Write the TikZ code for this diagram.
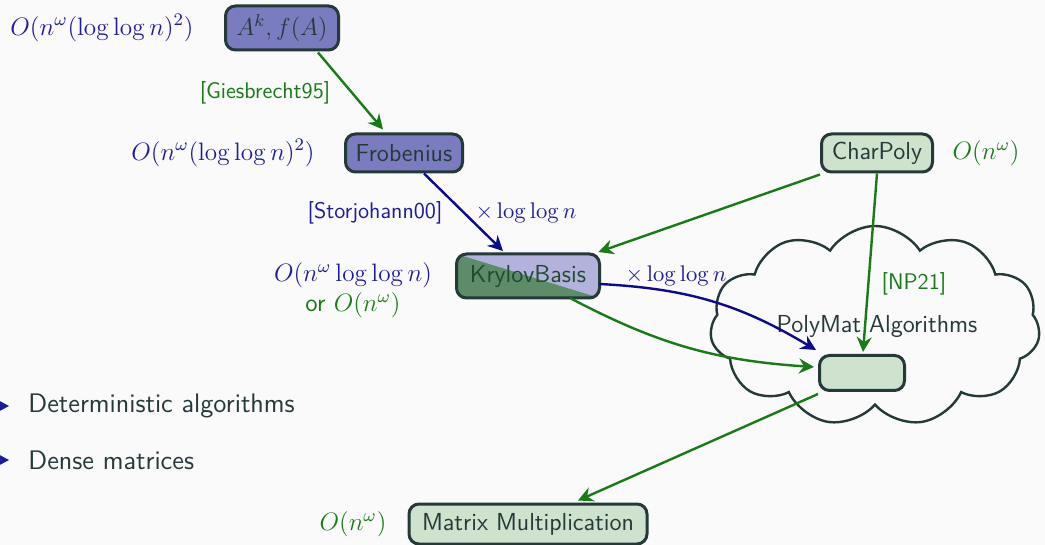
\RequirePackage{fix-cm}
\documentclass[tikz,border=0pt]{standalone}
\usetikzlibrary{shapes.symbols,arrows.meta,calc}

\definecolor{bgcol}{HTML}{FAFAFA}
\definecolor{slate}{HTML}{263939}
\definecolor{bluefill}{HTML}{7B7BC0}
\definecolor{greenfill}{HTML}{CEE2CE}
\definecolor{dgreen}{HTML}{1A7A1A}
\definecolor{dblue}{HTML}{1C1C96}
\definecolor{arrblue}{HTML}{0B0B8A}
\definecolor{krygreen}{HTML}{5C8C68}
\definecolor{krylav}{HTML}{B2B2DC}

\tikzset{
  boxfont/.style={font=\fontsize{12.3}{14}\selectfont\sffamily},
  edgefont/.style={font=\fontsize{11.3}{13}\selectfont\sffamily},
  costfont/.style={font=\fontsize{12.6}{15}\selectfont\sffamily},
  itemfont/.style={font=\fontsize{13.4}{16}\selectfont\sffamily},
  algbox/.style={boxfont, draw=slate, line width=1.5pt, rounded corners=5pt,
    text=slate, inner sep=0pt, minimum height=19pt},
  bluebox/.style={algbox, fill=bluefill},
  greenbox/.style={algbox, fill=greenfill},
  cost/.style={costfont, text=dblue, inner sep=0pt},
  gcost/.style={costfont, text=dgreen, inner sep=0pt},
  ref/.style={edgefont, text=dblue, inner sep=0pt},
  gref/.style={edgefont, text=dgreen, inner sep=0pt},
  garrow/.style={draw=dgreen, line width=1.2pt, -{Stealth[length=7.5pt,width=7.5pt,inset=2.5pt]}},
  barrow/.style={draw=arrblue, line width=1.2pt, -{Stealth[length=7.5pt,width=7.5pt,inset=2.5pt]}},
  bullet/.style={fill=dblue, draw=none},
}

\begin{document}
\begin{tikzpicture}[x=0.5pt, y=-0.5pt]
\useasboundingbox (0,0) rectangle (1045,545);
\fill[bgcol] (0,0) rectangle (1045,545);

% cloud of polynomial-matrix algorithms
\node[cloud, cloud puffs=11, cloud puff arc=115, draw=slate, line width=1.2pt,
  minimum width=165pt, minimum height=100pt, aspect=1.7] (cloud) at (875,326) {};
\node[boxfont, text=slate] (polymat) at (877,326) {PolyMat Algorithms};

% algorithm boxes
\node[bluebox, minimum width=56.5pt, minimum height=22pt] (A) at (282,28) {$A^k, f(A)$};
\node[bluebox, minimum width=58.5pt] (frob) at (404,153) {Frobenius};
\node[greenbox, minimum width=55.5pt] (charpoly) at (877,153) {CharPoly};
\node[algbox, minimum width=70pt, minimum height=20.5pt] (krylov) at (528,276) {\phantom{KrylovBasis}};
\begin{scope}
  \clip[rounded corners=5pt] (krylov.south west) rectangle (krylov.north east);
  \fill[krylav] (krylov.south west) rectangle (krylov.north east);
  \fill[krygreen] (krylov.north west) -- (krylov.south east) -- (krylov.south west) -- cycle;
\end{scope}
\draw[slate, line width=1.5pt, rounded corners=5pt] (krylov.south west) rectangle (krylov.north east);
\node[boxfont, text=slate!75!dgreen] at (krylov.center) {KrylovBasis};
\node[greenbox, minimum width=42.5pt, minimum height=17.5pt] (inner) at (862,373) {};
\node[greenbox, minimum width=119pt, minimum height=20pt] (matmul) at (528,524) {Matrix Multiplication};

% costs and references
\node[cost] (costA) at (102,28) {$O(n^\omega(\log\log n)^2)$};
\node[gref] (giesb) at (265,93) {[Giesbrecht95]};
\node[cost] (costF) at (223,153) {$O(n^\omega(\log\log n)^2)$};
\node[ref] (storj) at (375,213) {[Storjohann00]};
\node[ref] (fac1) at (526,213) {$\times\log\log n$};
\node[cost] (costK1) at (353,275) {$O(n^\omega\log\log n)$};
\node[gcost] (costK2) at (353,305) {or $O(n^\omega)$};
\node[ref] (fac2) at (676,276) {$\times\log\log n$};
\node[gref] (np21) at (914,284) {[NP21]};
\node[gcost] (costC) at (986,153) {$O(n^\omega)$};
\node[gcost] (costM) at (353,524) {$O(n^\omega)$};

% bullet list
\fill[bullet] (-4,399) -- (9,406) -- (-4,413) -- cycle;
\fill[bullet] (-4,453) -- (9,460) -- (-4,467) -- cycle;
\node[itemfont, text=slate, anchor=west, inner sep=0pt] (item1) at (28,406) {Deterministic algorithms};
\node[itemfont, text=slate, anchor=west, inner sep=0pt] (item2) at (28,460) {Dense matrices};

% reductions
\draw[garrow] ($(A.south)+(36,1)$) -- ($(frob.north)+(-21,-3)$);
\draw[barrow] ($(frob.south)+(20,0)$) -- ($(krylov.north)+(-25,-3)$);
\draw[garrow] ($(charpoly.south west)+(0,1)$) -- ($(krylov.north east)+(-1,-2)$);
\draw[garrow] (charpoly.south) -- ($(inner.north)+(1,-2)$);
\draw[barrow] ($(krylov.east)+(0,8)$) to[bend left=14] ($(inner.north west)+(-2,-4)$);
\draw[garrow] ($(krylov.south)+(42,0)$) to[bend right=12] ($(inner.west)+(-4,-6)$);
\draw[garrow] ($(inner.south west)+(0,2)$) -- ($(matmul.north)+(50,-2)$);
\end{tikzpicture}
\end{document}
